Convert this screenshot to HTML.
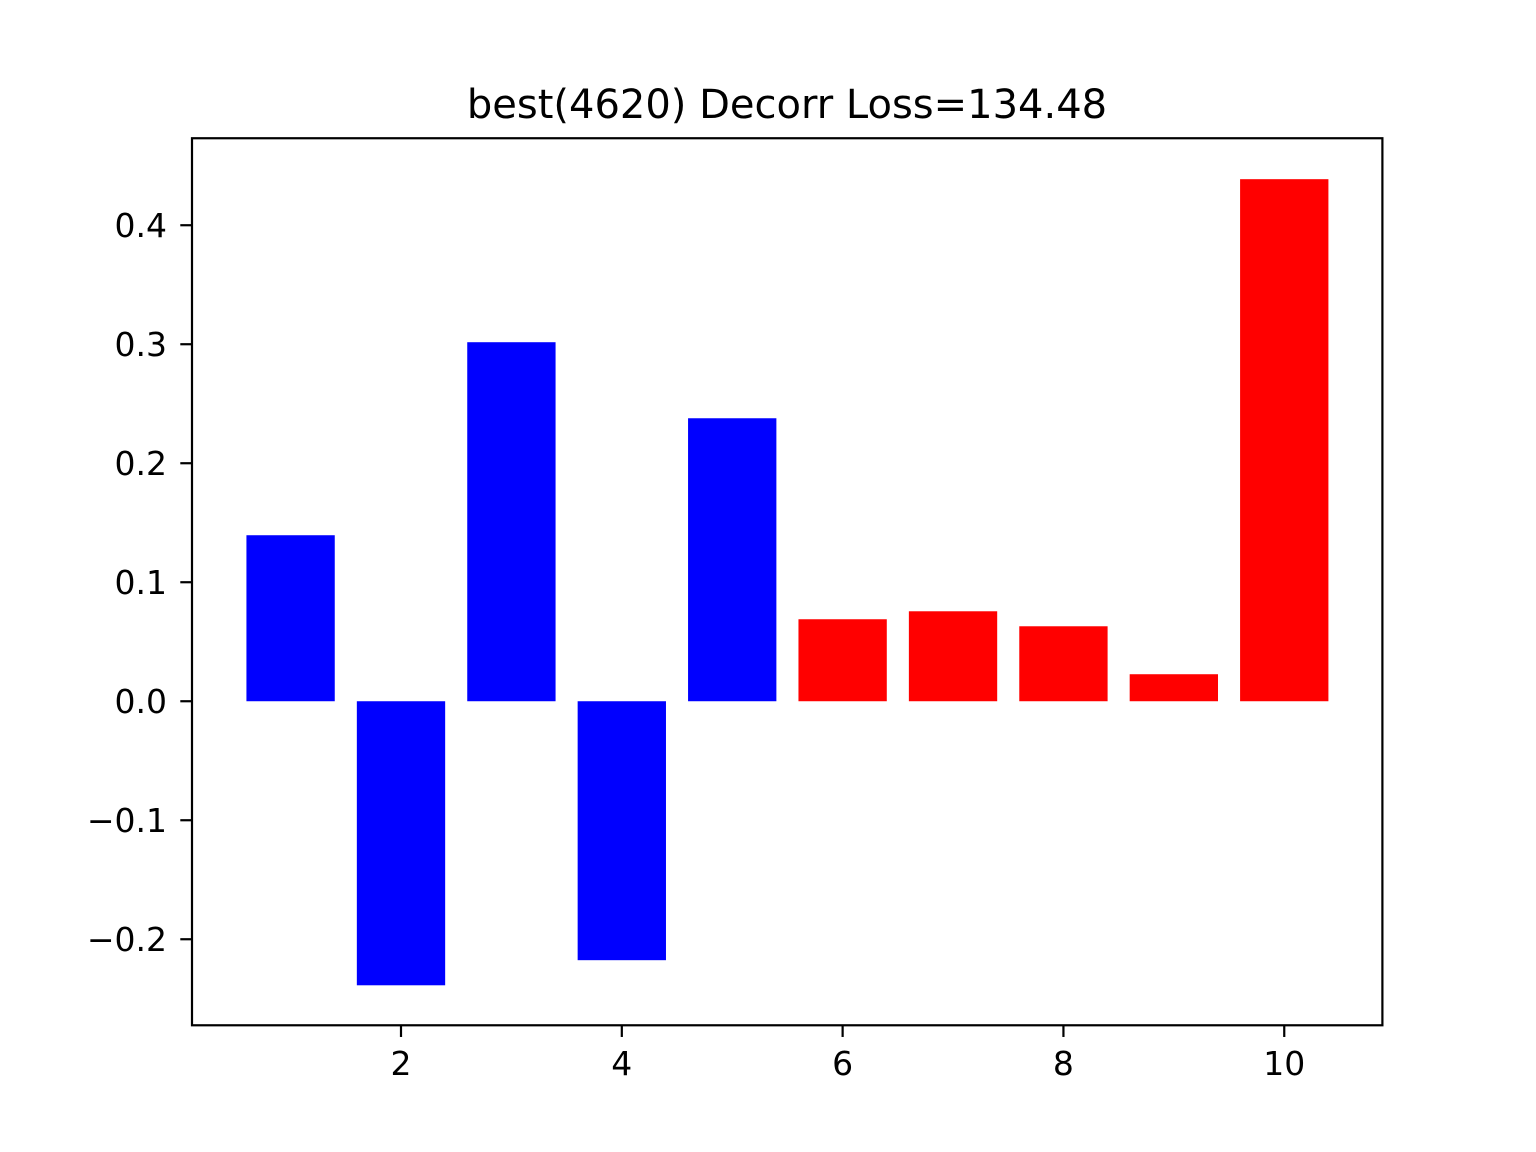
<!DOCTYPE html>
<html><head><meta charset="utf-8"><style>
html,body{margin:0;padding:0;background:#fff;}
svg{display:block;font-family:"DejaVu Sans","Liberation Sans",sans-serif;}
</style></head><body>
<svg id="chart" width="1536" height="1152" viewBox="0 0 1536 1152">
<rect width="1536" height="1152" fill="#fff"/>
<text x="787" y="118" font-size="40" text-anchor="middle">best(4620) Decorr Loss=134.48</text>
<g id="bars"></g>
<g id="axes"></g>
</svg>
<script>
const categories = [1,2,3,4,5,6,7,8,9,10];
const values = [0.1395,-0.2387,0.3017,-0.2176,0.2378,0.0689,0.0756,0.063,0.0227,0.4387];
const barColors = ['#0000ff','#0000ff','#0000ff','#0000ff','#0000ff','#ff0000','#ff0000','#ff0000','#ff0000','#ff0000'];
const xTicks = [2,4,6,8,10];
const yTicks = [-0.2,-0.1,0,0.1,0.2,0.3,0.4];
const yTickLabels = ['\u22120.2','\u22120.1','0.0','0.1','0.2','0.3','0.4'];

const L=192,R=1382.4,T=138.24,B=1025.28;
const xMin=0.107,xMax=10.889,yMin=-0.2723,yMax=0.4731;
function xs(v){return L+(v-xMin)/(xMax-xMin)*(R-L);}
function ys(v){return B-(v-yMin)/(yMax-yMin)*(B-T);}
const NS='http://www.w3.org/2000/svg';
const bars=document.getElementById('bars'), axes=document.getElementById('axes');
function mk(tag,attrs,parent){const e=document.createElementNS(NS,tag);for(const k in attrs)e.setAttribute(k,attrs[k]);parent.appendChild(e);return e;}
categories.forEach((c,i)=>{
  const x0=xs(c-0.4),x1=xs(c+0.4),y0=ys(0),y1=ys(values[i]);
  const r=mk('rect',{x:x0,y:Math.min(y0,y1),width:x1-x0,height:Math.abs(y1-y0),fill:barColors[i]},bars);
  
  
});
const frame=mk('rect',{x:L,y:T,width:R-L,height:B-T,fill:'none',stroke:'#000','stroke-width':2.2},axes);


xTicks.forEach(t=>{
  const x=xs(t);
  const ln=mk('line',{x1:x,x2:x,y1:B,y2:B+11.7,stroke:'#000','stroke-width':2.2},axes);
  
  
  const tx=mk('text',{x:x,y:1075,'font-size':33,'text-anchor':'middle'},axes);
  tx.textContent=t;
  
  
});
yTicks.forEach((t,i)=>{
  const y=ys(t);
  const ln=mk('line',{x1:L-11.7,x2:L,y1:y,y2:y,stroke:'#000','stroke-width':2.2},axes);
  
  
  const tx=mk('text',{x:167,y:y+12,'font-size':33,'text-anchor':'end'},axes);
  tx.textContent=yTickLabels[i];
  
  
});
</script>
</body></html>
